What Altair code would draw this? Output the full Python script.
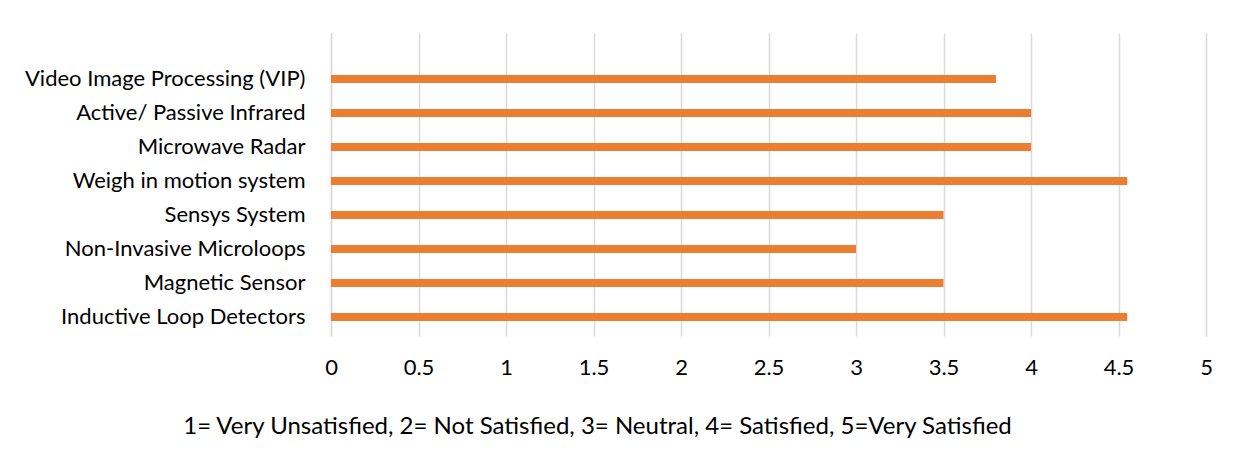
import altair as alt
import pandas as pd

categories = [
    "Video Image Processing (VIP)",
    "Active/ Passive Infrared",
    "Microwave Radar",
    "Weigh in motion system",
    "Sensys System",
    "Non-Invasive Microloops",
    "Magnetic Sensor",
    "Inductive Loop Detectors",
]
values = [3.8, 4.0, 4.0, 4.55, 3.5, 3.0, 3.5, 4.55]
x_ticks = [0, 0.5, 1, 1.5, 2, 2.5, 3, 3.5, 4, 4.5, 5]
caption = "1= Very Unsatisfied, 2= Not Satisfied, 3= Neutral, 4= Satisfied, 5=Very Satisfied"

n = len(categories)
df = pd.DataFrame({
    "category": categories,
    "value": values,
    "row": [n - 1 - i for i in range(n)],
})

label_list = "[" + ",".join("'" + c + "'" for c in reversed(categories)) + "]"

FONT = "Lato"
GRID = "#d9d9d9"

chart = (
    alt.Chart(df)
    .mark_bar(color="#ED7D31", size=8, orient="horizontal")
    .encode(
        x=alt.X(
            "value:Q",
            scale=alt.Scale(domain=[0, 5], nice=False, padding=0),
            axis=alt.Axis(
                values=x_ticks,
                format=".1~f",
                title=caption,
                titleFontSize=24,
                titleAnchor="start",
                titleAlign="center",
                titleBaseline="alphabetic",
                titleX=266,
                titleY=97,
                grid=True,
                gridColor=GRID,
                gridWidth=1.5,
                domain=False,
                ticks=False,
                labelFlush=False,
                labelPadding=21,
            ),
        ),
        y=alt.Y(
            "row:Q",
            scale=alt.Scale(domain=[-0.56, 8.35], nice=False, zero=False, padding=0),
            axis=alt.Axis(
                values=list(range(n)),
                labelExpr=label_list + "[datum.value]",
                title=None,
                grid=False,
                ticks=False,
                domain=True,
                domainColor=GRID,
                domainWidth=1.5,
                labelPadding=26,
                labelLimit=400,
                labelFlush=False,
            ),
        ),
        tooltip=["category:N", "value:Q"],
    )
    .properties(
        width=875,
        height=303,
        autosize=alt.AutoSizeParams(type="none"),
        padding={"left": 323, "top": 25, "right": 20, "bottom": 110},
        background="white",
    )
    .configure_view(stroke=None)
    .configure_axis(
        labelFont=FONT,
        titleFont=FONT,
        labelFontSize=22,
        labelColor="#000000",
        titleColor="#000000",
        titleFontWeight="normal",
    )
)

chart.save("out.html", embed_options={"renderer": "svg", "actions": False})
